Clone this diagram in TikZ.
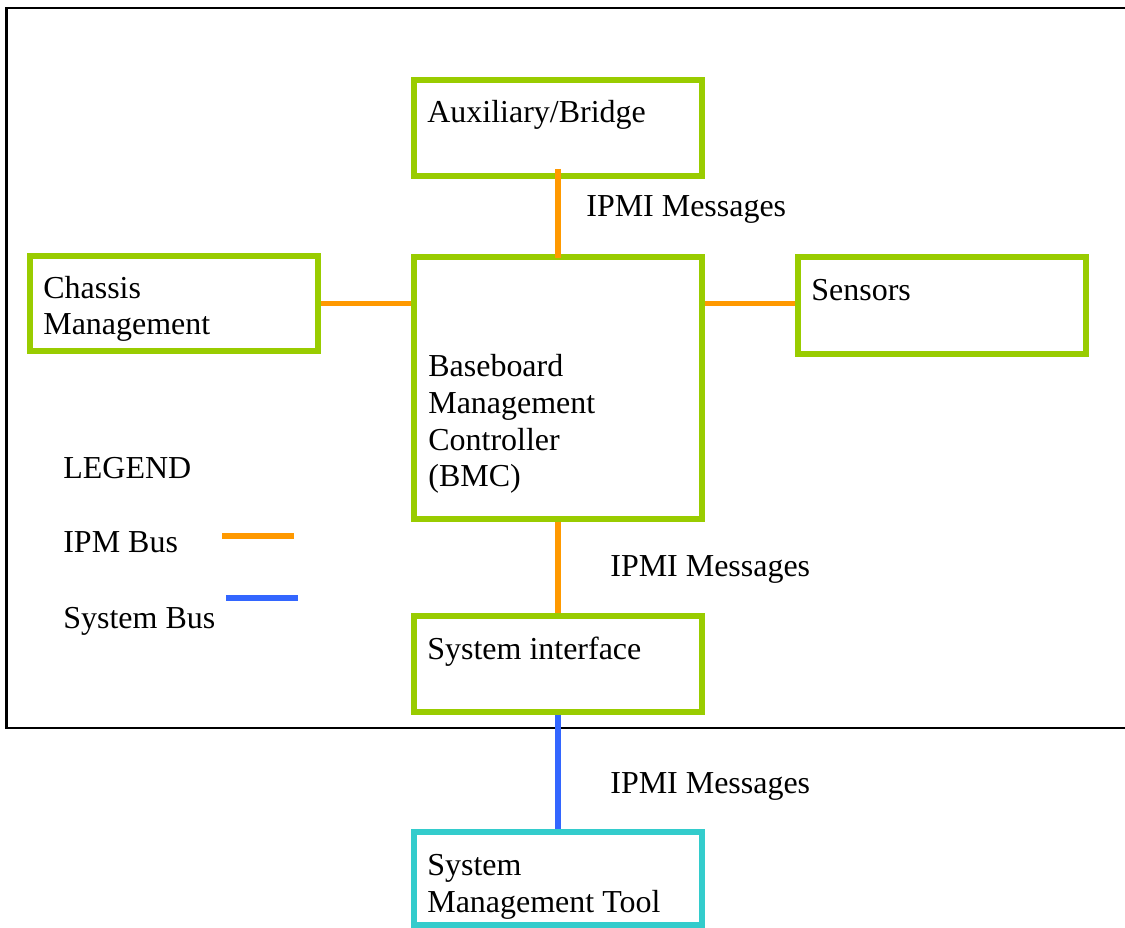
\documentclass[tikz,border=0pt]{standalone}
\usepackage{fontspec}
\setmainfont{Liberation Serif}
\usetikzlibrary{positioning, calc}
\definecolor{boxgreen}{RGB}{153,204,0}
\definecolor{busorange}{RGB}{255,153,0}
\definecolor{sysblue}{RGB}{51,102,255}
\definecolor{toolcyan}{RGB}{51,204,204}

\begin{document}
\begin{tikzpicture}[x=0.02cm, y=-0.02cm,
      block/.style={
        rectangle, draw=boxgreen, line width=0.12cm,
        minimum width=5.76cm, inner sep=0pt
      },
      tool/.style={block, draw=toolcyan},
      txt/.style={
        anchor=base west, inner sep=0pt, align=left,
        font=\fontsize{18.2pt}{21pt}\selectfont
      },
      ipm/.style={line width=0.11cm, color=busorange},
      sysbus/.style={line width=0.12cm, color=sysblue}
    ]
      \useasboundingbox (0,0) rectangle (1125,928);
      \clip (0,0) rectangle (1125,928);
      % --- Outer frame (runs off the right edge) ---
      \draw[line width=0.045cm] (6.5,8) rectangle (1140,728);
      % --- Boxes ---
      \node[block, minimum height=1.92cm] (aux) at (558,128) {};
      \node[block, minimum height=1.90cm] (chassis) at (174,303.5) {};
      \node[block, minimum height=5.24cm] (bmc) at (558,388) {};
      \node[block, minimum height=1.94cm] (sensors) at (942,305.5) {};
      \node[block, minimum height=1.92cm] (sysif) at (558,664) {};
      \node[tool, minimum height=1.86cm] (smt) at (558,878.5) {};
      % --- Box texts (multi-line ones sit on their last baseline) ---
      \node[txt] (auxtext) at (427,123) {Auxiliary/Bridge};
      \node[txt] (chassistext) at (43,335) {Chassis\\Management};
      \node[txt] (sensorstext) at (811,301) {Sensors};
      \node[txt] (bmctext) at (428,487) {Baseboard\\Management\\Controller\\(BMC)};
      \node[txt] (syseiftext) at (427,659) {System interface};
      \node[txt] (smttext) at (427,912) {System\\Management Tool};
      % --- Buses ---
      \draw[ipm] ([yshift=0.2cm]aux.south) -- ([yshift=-0.08cm]bmc.north);
      \draw[ipm] (chassis.east) -- (chassis.east -| bmc.west);
      \draw[ipm] (chassis.east -| bmc.east) -- (chassis.east -| sensors.west);
      \draw[ipm] (bmc.south) -- (sysif.north);
      \draw[sysbus] (sysif.south) -- (smt.north);
      % --- Bus labels ---
      \node[txt] (msgtop) at (586,217) {IPMI Messages};
      \node[txt] (msgmid) at (610,577) {IPMI Messages};
      \node[txt] (msgbot) at (610,793) {IPMI Messages};
      % --- Legend ---
      \node[txt] (legend) at (63,479) {LEGEND};
      \node[txt] (ipmtext) at (63,553) {IPM Bus};
      \node[txt] (systext) at (63,628) {System Bus};
      \coordinate (ipmA) at (222,536);
      \coordinate (ipmB) at (294,536);
      \coordinate (sysA) at (226,598);
      \coordinate (sysB) at (298,598);
      \draw[ipm] (ipmA) -- (ipmB);
      \draw[sysbus] (sysA) -- (sysB);
    \end{tikzpicture}
\end{document}
